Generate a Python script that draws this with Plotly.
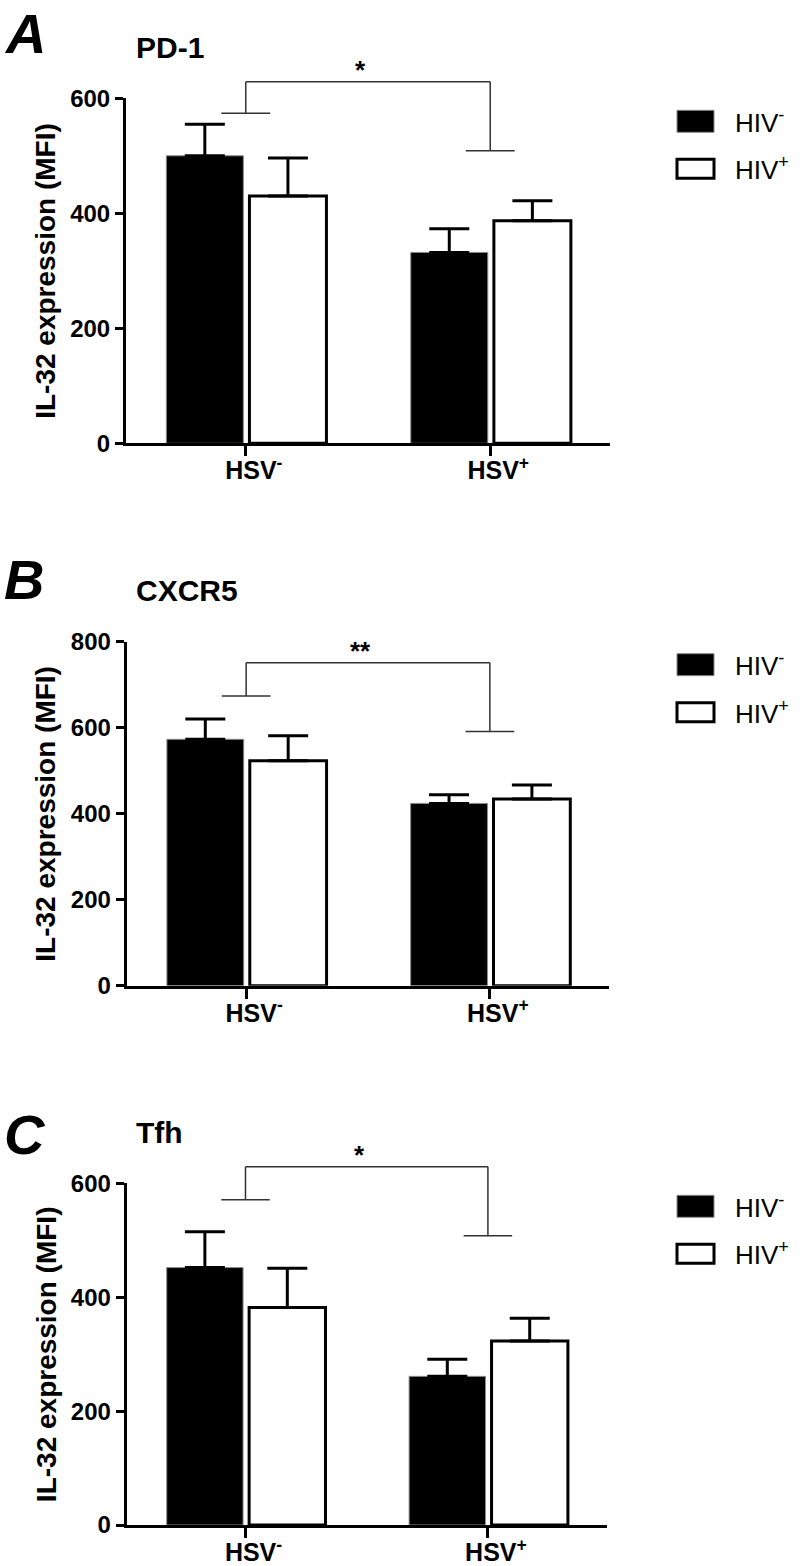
import plotly.graph_objects as go

# ---------------- data ----------------
categories = ["HSV<sup>-</sup>", "HSV<sup>+</sup>"]
series_names = ["HIV<sup>-</sup>", "HIV<sup>+</sup>"]
panel_letters = ["A", "B", "C"]
panel_titles = ["PD-1", "CXCR5", "Tfh"]
y_title = "IL-32 expression (MFI)"

pd1_hiv_neg = [500, 332]
pd1_hiv_neg_err = [55, 41]
pd1_hiv_pos = [430, 387]
pd1_hiv_pos_err = [66, 35]

cxcr5_hiv_neg = [573, 424]
cxcr5_hiv_neg_err = [47, 20]
cxcr5_hiv_pos = [523, 434]
cxcr5_hiv_pos_err = [58, 33]

tfh_hiv_neg = [452, 261]
tfh_hiv_neg_err = [63, 30]
tfh_hiv_pos = [382, 323]
tfh_hiv_pos_err = [69, 40]

y_max = [600, 800, 600]
y_tick_step = 200
sig_labels = ["*", "**", "*"]
bracket_top = [629, 751, 629]
bracket_left_end = [574, 674, 571]
bracket_right_end = [509, 591, 508]

panels = [
    (pd1_hiv_neg, pd1_hiv_neg_err, pd1_hiv_pos, pd1_hiv_pos_err),
    (cxcr5_hiv_neg, cxcr5_hiv_neg_err, cxcr5_hiv_pos, cxcr5_hiv_pos_err),
    (tfh_hiv_neg, tfh_hiv_neg_err, tfh_hiv_pos, tfh_hiv_pos_err),
]

# ---------------- layout / style ----------------
W, H = 800, 1566
FONT = "Liberation Sans, Arial, Helvetica, sans-serif"
plot_boxes = [(126, 610, 98.3, 443.3), (126.7, 609.3, 641.7, 985.7), (126.7, 606.7, 1183.3, 1525)]
letter_box_top = [0, 546, 1101]
x_range = [-0.49, 1.49]
bar_width = 0.315
bar_offsets = [-0.325, 0.015]
cap_half = 0.1


def px(x):
    return x / W


def py(y):
    return 1 - y / H


fig = go.Figure()
shapes = []
annotations = []
layout_axes = {}

for i, (neg, neg_err, pos, pos_err) in enumerate(panels):
    n = "" if i == 0 else str(i + 1)
    xa, ya = "x" + n, "y" + n
    x0p, x1p, y0p, y1p = plot_boxes[i]
    xs = list(range(len(categories)))

    fig.add_trace(go.Bar(
        x=xs, y=neg, xaxis=xa, yaxis=ya, name=series_names[0],
        width=bar_width, offset=bar_offsets[0],
        marker=dict(color="black", line=dict(color="#8a8a8a", width=1)),
        error_y=dict(type="data", array=neg_err, arrayminus=[0] * len(neg),
                     symmetric=False, color="black", thickness=3, width=20),
        showlegend=False,
    ))
    fig.add_trace(go.Bar(
        x=xs, y=pos, xaxis=xa, yaxis=ya, name=series_names[1],
        width=bar_width, offset=bar_offsets[1],
        marker=dict(color="white", line=dict(color="black", width=3)),
        error_y=dict(type="data", array=pos_err, arrayminus=[0] * len(pos),
                     symmetric=False, color="black", thickness=3, width=20),
        showlegend=False,
    ))

    layout_axes["xaxis" + n] = dict(
        domain=[px(x0p), px(x1p)], anchor=ya, range=x_range,
        tickmode="array", tickvals=xs, ticktext=categories,
        showline=True, linewidth=3, linecolor="black",
        ticks="outside", ticklen=10, tickwidth=3, tickcolor="black",
        ticklabelstandoff=-7, ticklabelshift=8,
        showgrid=False, zeroline=False, automargin=False,
        tickfont=dict(family=FONT, size=25, color="black", weight="bold"),
        fixedrange=True,
    )
    ticks = list(range(0, y_max[i] + 1, y_tick_step))
    layout_axes["yaxis" + n] = dict(
        domain=[py(y1p), py(y0p)], anchor=xa, range=[0, y_max[i]],
        tickmode="array", tickvals=ticks, ticktext=[str(t) for t in ticks],
        showline=True, linewidth=3, linecolor="black",
        ticks="outside", ticklen=8, tickwidth=3, tickcolor="black",
        showgrid=False, zeroline=False, automargin=False,
        tickfont=dict(family=FONT, size=24, color="black", weight="bold"),
        fixedrange=True,
    )

    # significance bracket (domain refs so it may sit above the axis range)
    xref, yref = xa + " domain", ya + " domain"

    def fx(v):
        return (v - x_range[0]) / (x_range[1] - x_range[0])

    def fy(v, m=y_max[i]):
        return v / m

    line = dict(color="#333333", width=1.5)
    segs = [
        (0, bracket_top[i], 1, bracket_top[i]),
        (0, bracket_top[i], 0, bracket_left_end[i]),
        (1, bracket_top[i], 1, bracket_right_end[i]),
        (-cap_half, bracket_left_end[i], cap_half, bracket_left_end[i]),
        (1 - cap_half, bracket_right_end[i], 1 + cap_half, bracket_right_end[i]),
    ]
    for (a, b, c, d) in segs:
        shapes.append(dict(type="line", xref=xref, yref=yref,
                           x0=fx(a), y0=fy(b), x1=fx(c), y1=fy(d), line=line))
    annotations.append(dict(
        xref=xref, yref=yref, x=fx(0.47), y=fy(bracket_top[i]),
        text=sig_labels[i], showarrow=False, xanchor="center", yanchor="bottom",
        yshift=-5, font=dict(family=FONT, size=26, color="black", weight="bold"),
    ))

    # panel letter and title
    annotations.append(dict(
        xref="paper", yref="paper", x=px(2), y=py(letter_box_top[i]),
        text=panel_letters[i], showarrow=False, xanchor="left", yanchor="top",
        font=dict(family=FONT, size=56, color="black", weight="bold", style="italic"),
    ))
    annotations.append(dict(
        xref="paper", yref="paper", x=px(134), y=py(y0p - 51),
        text=panel_titles[i], showarrow=False, xanchor="left", yanchor="middle",
        font=dict(family=FONT, size=30, color="black", weight="bold"),
    ))
    # y-axis title
    annotations.append(dict(
        xref="paper", yref="paper", x=px(46), y=py((y0p + y1p) / 2),
        text=y_title, showarrow=False, xanchor="center", yanchor="middle",
        textangle=-90,
        font=dict(family=FONT, size=28, color="black", weight="bold"),
    ))

    # legend (drawn as boxes + text)
    leg = [(12, 34, "black", "#8a8a8a", 1), (61, 80, "white", "black", 3)]
    for k, (t, b, fill, lc, lw) in enumerate(leg):
        shapes.append(dict(type="rect", xref="paper", yref="paper",
                           x0=px(677), x1=px(714), y0=py(y0p + b), y1=py(y0p + t),
                           fillcolor=fill, line=dict(color=lc, width=lw)))
        annotations.append(dict(
            xref="paper", yref="paper", x=px(733), y=py(y0p + (t + b) / 2),
            text=series_names[k], showarrow=False, xanchor="left", yanchor="middle",
            font=dict(family=FONT, size=26, color="black"),
        ))

fig.update_layout(
    width=W, height=H,
    margin=dict(l=0, r=0, t=0, b=0, pad=0, autoexpand=False),
    paper_bgcolor="white", plot_bgcolor="white",
    barmode="overlay",
    showlegend=False,
    shapes=shapes, annotations=annotations,
    font=dict(family=FONT, color="black"),
    **layout_axes,
)

fig.write_html("out.html", config={"displayModeBar": False},
               post_script="document.body.style.margin='0';")
